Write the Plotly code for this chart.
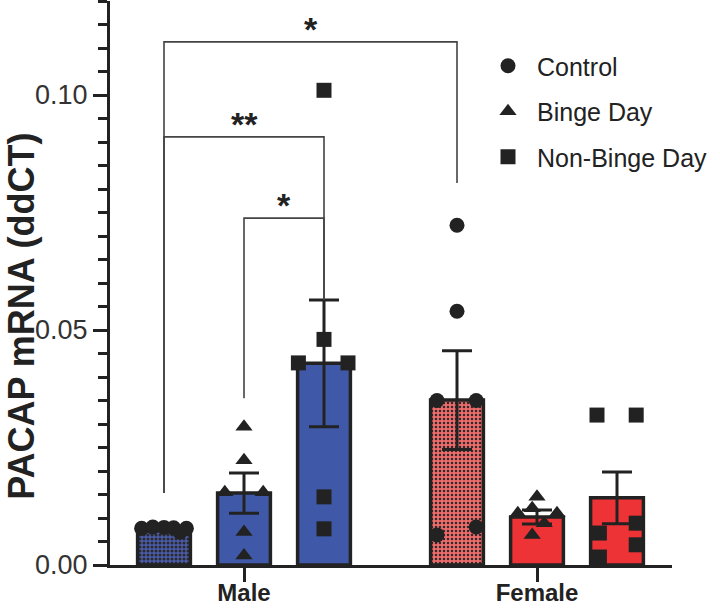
import plotly.graph_objects as go

# ---------------- data ----------------
groups = ["Male", "Female"]
conditions = ["Control", "Binge Day", "Non-Binge Day"]

male_means = [0.0079, 0.0153, 0.0429]
female_means = [0.0351, 0.0102, 0.0143]
male_sem = [0.0003, 0.0043, 0.0135]
female_sem = [0.0105, 0.0015, 0.0055]

ctrl_male = [0.0078, 0.0081, 0.0080, 0.0079, 0.0070, 0.0078]
binge_male = [0.0294, 0.0223, 0.0155, 0.0155, 0.0070, 0.0020]
nonbinge_male = [0.101, 0.048, 0.043, 0.043, 0.0145, 0.0077]
ctrl_female = [0.0723, 0.054, 0.035, 0.035, 0.0064, 0.0081]
binge_female = [0.0145, 0.0110, 0.0121, 0.0110, 0.0089, 0.0064]
nonbinge_female = [0.0319, 0.0319, 0.0068, 0.0089, 0.0043, 0.0017]

# horizontal spread of the points inside each bar (in bar-spacing units)
jit_ctrl_male = [-0.28, -0.14, 0.0, 0.12, 0.2, 0.28]
jit_binge_male = [0, 0, -0.24, 0.24, 0, 0]
jit_nonbinge_male = [0, 0, -0.32, 0.30, 0, 0]
jit_ctrl_female = [0, 0, -0.25, 0.24, -0.25, 0.24]
jit_binge_female = [0, -0.24, -0.06, 0.25, 0.09, -0.06]
jit_nonbinge_female = [-0.25, 0.24, -0.22, 0.24, 0.24, -0.22]

y_ticks = [0.00, 0.05, 0.10]
y_tick_labels = ["0.00", "0.05", "0.10"]

# significance comparisons: (group, cond) left, (group, cond) right, bracket level, leg ends, label
comparisons = [
    ((0, 0), (1, 0), 0.1113, 0.0153, 0.0813, "*"),
    ((0, 0), (0, 2), 0.0911, 0.0153, 0.0564, "**"),
    ((0, 1), (0, 2), 0.0738, 0.0355, 0.0564, "*"),
]

# ---------------- layout helpers ----------------
group_center = [0.0, 3.6625]
cond_offset = [-1.0, 0.0, 1.0]
bar_width = 0.66

def pos(g, c):
    return group_center[g] + cond_offset[c]

FONT = "Arial, Liberation Sans, sans-serif"
INK = "#222222"
BLUE = "#3F58A8"
RED = "#EE3337"

means = [male_means, female_means]
sems = [male_sem, female_sem]
points = [[ctrl_male, binge_male, nonbinge_male],
          [ctrl_female, binge_female, nonbinge_female]]
jitters = [[jit_ctrl_male, jit_binge_male, jit_nonbinge_male],
           [jit_ctrl_female, jit_binge_female, jit_nonbinge_female]]
symbols = ["circle", "triangle-up", "square"]

fig = go.Figure()

# bars
for g in range(2):
    for c in range(3):
        base = BLUE if g == 0 else RED
        if c == 0:
            color = "#4A5CAE" if g == 0 else "#F06A6A"
            pattern = dict(shape=".", fgcolor="#2a2a2a", bgcolor=color, size=4,
                           solidity=0.45 if g == 0 else 0.3, fillmode="replace")
        else:
            color = base
            pattern = dict(shape="")
        fig.add_trace(go.Bar(
            x=[pos(g, c)], y=[means[g][c]], width=bar_width,
            marker=dict(color=color, line=dict(color=INK, width=3.5), pattern=pattern),
            error_y=dict(type="data", array=[sems[g][c]], visible=True,
                         color=INK, thickness=3, width=15),
            showlegend=False, hoverinfo="skip",
        ))

# points
for c in range(3):
    xs, ys = [], []
    for g in range(2):
        for v, j in zip(points[g][c], jitters[g][c]):
            xs.append(pos(g, c) + j)
            ys.append(v)
    fig.add_trace(go.Scatter(
        x=xs, y=ys, mode="markers", name=conditions[c], legendgroup=conditions[c],
        marker=dict(symbol=symbols[c], size=15, color=INK, line=dict(width=0)),
    ))

# significance brackets
shapes = []
annotations = []
for (lg, lc), (rg, rc), lvl, lbot, rbot, lab in comparisons:
    x0, x1 = pos(lg, lc), pos(rg, rc)
    shapes.append(dict(type="path", xref="x", yref="y",
                       path=f"M {x0},{lbot} L {x0},{lvl} L {x1},{lvl} L {x1},{rbot}",
                       line=dict(color="#444444", width=1.6)))
    annotations.append(dict(x=(x0 + x1) / 2, y=lvl, xref="x", yref="y", text=f"<b>{lab}</b>",
                            showarrow=False, yanchor="bottom", yshift=-8,
                            font=dict(family=FONT, size=34, color=INK)))

annotations.append(dict(text="<b>PACAP mRNA (ddCT)</b>", textangle=-90,
                        x=(22 - 110) / 562, y=0.44, xref="paper", yref="paper",
                        xanchor="center", yanchor="middle", showarrow=False,
                        font=dict(family=FONT, size=36, color=INK)))

fig.update_layout(
    width=720, height=608,
    margin=dict(l=110, r=48, t=1, b=43),
    paper_bgcolor="white", plot_bgcolor="white",
    barmode="overlay",
    shapes=shapes, annotations=annotations,
    font=dict(family=FONT, color=INK),
    legend=dict(x=(479 - 110) / 562, y=1 - (42 / 564), xanchor="left", yanchor="top",
                font=dict(family=FONT, size=25, color=INK), tracegroupgap=10,
                bgcolor="rgba(0,0,0,0)", itemwidth=48),
    xaxis=dict(range=[-1.675, 5.35], showgrid=False, zeroline=False, automargin=False,
               showline=True, linecolor=INK, linewidth=3,
               tickvals=group_center, ticktext=[f"<b>{g}</b>" for g in groups],
               ticks="outside", ticklen=14, tickwidth=3, tickcolor=INK,
               ticklabelstandoff=-10,
               tickfont=dict(family=FONT, size=24, color=INK)),
    yaxis=dict(range=[0, 0.12], showgrid=False, zeroline=False, automargin=False,
               showline=True, linecolor=INK, linewidth=3,
               tickvals=y_ticks, ticktext=y_tick_labels,
               ticks="outside", ticklen=14, tickwidth=3, tickcolor=INK,
               tickfont=dict(family=FONT, size=27, color="#333333"),
               minor=dict(tickvals=[i * 0.005 for i in range(25)], ticks="outside",
                          ticklen=9, tickwidth=3, tickcolor=INK)),
)

fig.write_html("out.html")
